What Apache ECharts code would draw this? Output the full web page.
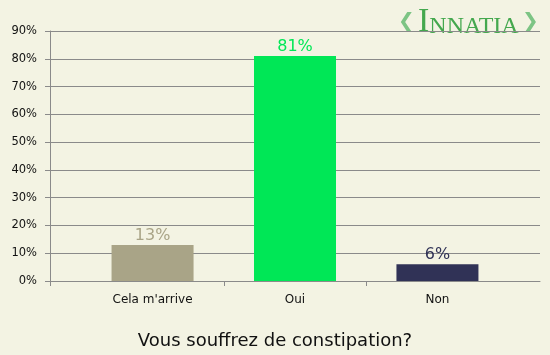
<!DOCTYPE html>
<html>
<head>
<meta charset="utf-8">
<script src="https://cdn.jsdelivr.net/npm/echarts@6/dist/echarts.min.js"></script>
<style>
html,body{margin:0;padding:0;background:#f3f3e3;}
#chart{width:550px;height:355px;}
</style>
</head>
<body>
<div id="chart"></div>
<script>
const categories = ["Cela m'arrive", "Oui", "Non"];
const values = [13, 81, 6];
const barColors = ['#a9a487', '#00e756', '#303256'];
const yTicks = [0, 10, 20, 30, 40, 50, 60, 70, 80, 90];
const titleText = 'Vous souffrez de constipation?';

const chart = echarts.init(document.getElementById('chart'));
const font = 'DejaVu Sans';
const gray = '#8a8a8a';
const xMin = -0.72, xMax = 2.72;

chart.setOption({
  backgroundColor: '#f3f3e3',
  animation: false,
  title: {
    text: titleText,
    left: 'center',
    top: 327,
    textStyle: {fontFamily: font, fontSize: 18, fontWeight: 'normal', color: '#111'}
  },
  graphic: [{
    type: 'text',
    left: 418,
    top: 5,
    style: {
      text: '{a|I}{b|NNATIA}',
      rich: {
        a: {fontFamily: 'Liberation Serif', fontSize: 34, fill: '#44a84e', verticalAlign: 'bottom'},
        b: {fontFamily: 'Liberation Serif', fontSize: 24, fill: '#44a84e', verticalAlign: 'bottom'}
      }
    }
  }, {
    type: 'text', left: 398, top: 12,
    style: {text: '❮', font: '20px DejaVu Sans', fill: '#7cc484'}
  }, {
    type: 'text', left: 522, top: 12,
    style: {text: '❯', font: '20px DejaVu Sans', fill: '#7cc484'}
  }],
  grid: {left: 50, right: 10, top: 31, bottom: 74},
  xAxis: {
    type: 'value',
    min: xMin,
    max: xMax,
    splitLine: {show: false},
    axisLine: {show: true, onZero: false, lineStyle: {color: gray}},
    axisTick: {show: true, length: 5, lineStyle: {color: gray}, customValues: [xMin, 0.5, 1.5]},
    axisLabel: {
      customValues: [0, 1, 2],
      formatter: v => categories[Math.round(v)],
      fontFamily: font, fontSize: 12, color: '#111', margin: 13
    }
  },
  yAxis: {
    type: 'value',
    min: yTicks[0],
    max: yTicks[yTicks.length - 1],
    interval: 10,
    axisLine: {show: true, onZero: false, lineStyle: {color: gray}},
    axisTick: {show: true, length: 5, lineStyle: {color: gray}},
    splitLine: {show: true, lineStyle: {color: gray, width: 1}},
    axisLabel: {formatter: '{value}%', fontFamily: font, fontSize: 11.5, color: '#111', margin: 13}
  },
  series: [{
    type: 'bar',
    barWidth: 82,
    data: categories.map((c, i) => ({
      value: [i, values[i]],
      itemStyle: {color: barColors[i]},
      label: {color: barColors[i]}
    })),
    label: {
      show: true,
      position: 'top',
      distance: 1,
      fontFamily: font,
      fontSize: 16,
      formatter: p => p.value[1] + '%'
    }
  }]
});
</script>
</body>
</html>
